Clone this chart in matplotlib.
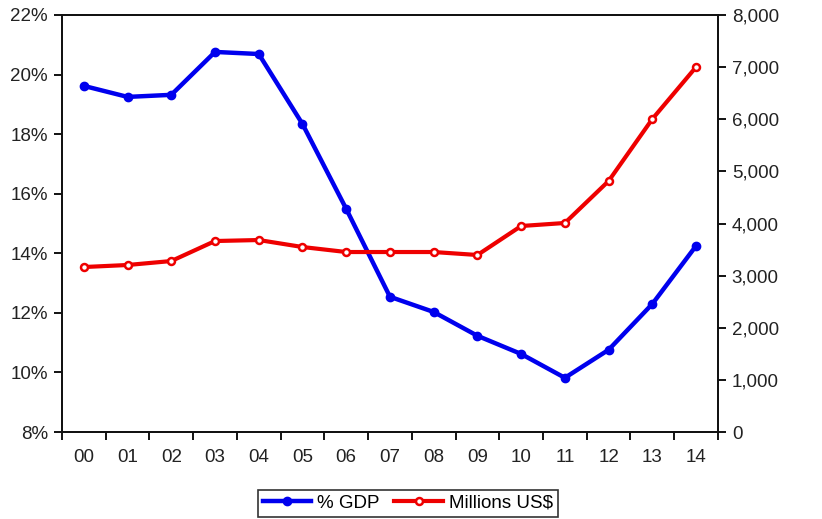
import matplotlib
matplotlib.use("Agg")
import matplotlib.pyplot as plt
from matplotlib.ticker import FuncFormatter, FixedLocator, NullFormatter

plt.rcParams['font.family'] = ['Liberation Sans', 'DejaVu Sans']

years = ['00', '01', '02', '03', '04', '05', '06', '07', '08', '09', '10', '11', '12', '13', '14']
pct_gdp = [19.62, 19.25, 19.32, 20.76, 20.69, 18.34, 15.49, 12.54, 12.03, 11.23, 10.62, 9.82, 10.76, 12.30, 14.25]
millions_usd = [3165, 3204, 3280, 3664, 3683, 3549, 3453, 3453, 3453, 3396, 3952, 4010, 4815, 6005, 7002]

fig = plt.figure(figsize=(8.22, 5.19), dpi=100)
ax = fig.add_axes([0.0754, 0.1676, 0.798, 0.8035])
ax2 = ax.twinx()

x = list(range(len(years)))

l1, = ax.plot(x, pct_gdp, color='#0000ee', lw=3.2, marker='o', ms=6,
              mfc='#0000ee', mec='#0000ee', label='% GDP', zorder=3)
l2, = ax2.plot(x, millions_usd, color='#ee0000', lw=3.0, marker='o', ms=5,
               mfc='white', mec='#ee0000', mew=1.8, label='Millions US$', zorder=3)

ax.set_xlim(-0.5, len(years) - 0.5)
ax.set_ylim(8, 22)
ax2.set_ylim(0, 8000)

ax.set_yticks(range(8, 23, 2))
ax.yaxis.set_major_formatter(FuncFormatter(lambda v, p: f'{v:.0f}%'))
ax2.set_yticks(range(0, 8001, 1000))
ax2.yaxis.set_major_formatter(FuncFormatter(lambda v, p: f'{v:,.0f}'))

# category ticks sit between the years, labels centred on each year
ax.xaxis.set_major_locator(FixedLocator([i - 0.5 for i in range(len(years) + 1)]))
ax.xaxis.set_major_formatter(NullFormatter())
ax.xaxis.set_minor_locator(FixedLocator(x))
ax.set_xticklabels(years, minor=True)
ax.tick_params(axis='x', which='minor', length=0, pad=12, labelsize=13.5, labelcolor='#222222')
ax.tick_params(axis='x', which='major', length=6, width=1.3, direction='out')

ax.tick_params(axis='y', length=6, width=1.3, direction='out', labelsize=13.5,
               labelcolor='#222222', pad=4)
ax2.tick_params(axis='y', length=6, width=1.3, direction='out', labelsize=13.5,
                labelcolor='#222222', pad=4)

for a in (ax, ax2):
    for s in a.spines.values():
        s.set_linewidth(1.3)
        s.set_color('#111111')

leg = fig.legend(handles=[l1, l2], loc='center', bbox_to_anchor=(0.496, 0.03),
                 ncol=2, frameon=True, fancybox=False, fontsize=13.5,
                 handlelength=2.6, handletextpad=0.3, columnspacing=0.8,
                 borderpad=0.25, borderaxespad=0)
leg.get_frame().set_edgecolor('black')
leg.get_frame().set_linewidth(1.2)

fig.savefig('out.png', dpi=100)
